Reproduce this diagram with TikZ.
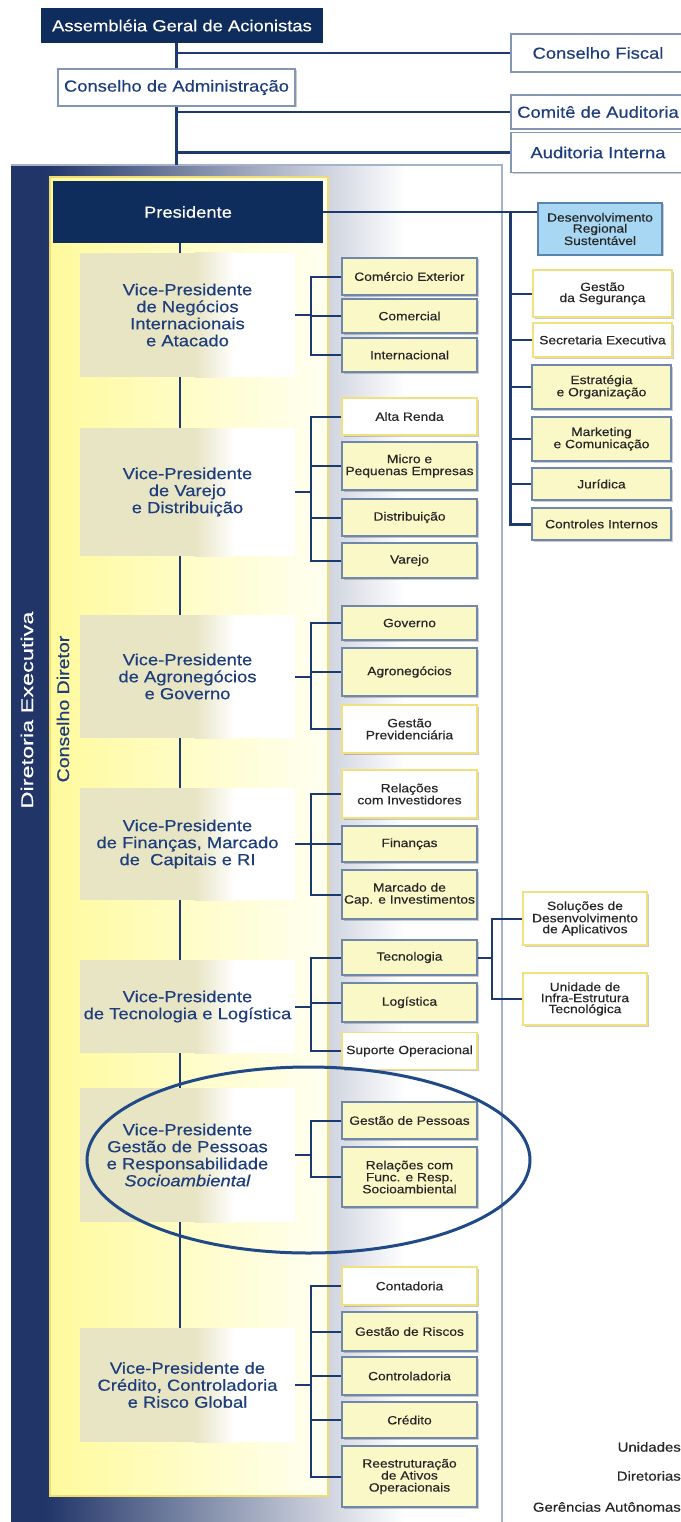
\documentclass[tikz,border=0pt]{standalone}
\usepackage{fontspec}
\usepackage{graphicx}
\setmainfont[FakeStretch=1.15, FakeBold=0.4]{Liberation Sans}
\usetikzlibrary{shadows}
\definecolor{boxnavy}{HTML}{0E2C5C}
\definecolor{stripnavy}{HTML}{213568}
\definecolor{linenavy}{HTML}{1C3A6F}
\definecolor{vptext}{HTML}{1D3D7C}
\definecolor{panelyellow}{HTML}{FFFA9C}
\definecolor{panelwhite}{HTML}{FFFFF2}
\definecolor{panelborder}{HTML}{F0DC70}
\definecolor{vpbeige}{HTML}{E8E5C4}
\definecolor{subfill}{HTML}{FBF8C8}
\definecolor{subborder}{HTML}{6F87A8}
\definecolor{yborder}{HTML}{F2DF7E}
\definecolor{desfill}{HTML}{A7D7F2}
\definecolor{desborder}{HTML}{5A84B0}
\definecolor{frameborder}{HTML}{A6B2CB}
\definecolor{topborder}{HTML}{8496B5}
\definecolor{subtext}{HTML}{262626}
\definecolor{ellcol}{HTML}{1F4A85}
\pgfdeclarelayer{panels}
\pgfdeclarelayer{wires}
\pgfsetlayers{panels,wires,main}
\begin{document}
\begin{tikzpicture}[x=1pt,y=-1pt,
  every node/.style={inner sep=0pt, align=center},
  wire/.style={draw=linenavy, line width=2pt},
  shad/.style={drop shadow={shadow xshift=1.5pt, shadow yshift=-1.5pt, fill=black, opacity=0.2}},
  topbox/.style={shad, draw=topborder, line width=1.5pt, fill=white, text=vptext, font=\fontsize{16}{18}\selectfont},
  navybox/.style={fill=boxnavy, text=white, font=\fontsize{16}{18}\selectfont},
  vpbox/.style={fill=white, minimum width=215pt, text=vptext, font=\fontsize{16}{17}\selectfont,
    path picture={
      \fill[vpbeige] (path picture bounding box.south west) rectangle ([xshift=116pt]path picture bounding box.north west);
      \shade[left color=vpbeige, right color=white] ([xshift=115pt]path picture bounding box.south west) rectangle ([xshift=155pt]path picture bounding box.north west);
    }},
  subbox/.style={shad, draw=subborder, line width=1.5pt, fill=subfill, text=subtext, minimum width=135pt, font=\fontsize{12}{12}\selectfont},
  wsubbox/.style={subbox, draw=yborder, fill=white},
  rbox/.style={subbox, minimum width=139pt, font=\fontsize{12}{11}\selectfont},
  wrbox/.style={rbox, draw=yborder, fill=white},
  legend/.style={anchor=east, text=subtext, font=\fontsize{13}{13}\selectfont}
]
\useasboundingbox (0,0) rectangle (680,1522);

% panels
\begin{pgfonlayer}{panels}
\fill[white] (0,0) rectangle (680,1522);
\fill[stripnavy] (11,165) rectangle (46,1522);
\shade[left color=stripnavy, right color=white] (45,165) rectangle (405,1522);
\fill[white] (404,165) rectangle (502,1522);
\draw[frameborder, line width=1.2pt] (11,165) -- (502,165) -- (502,1522);
\shadedraw[left color=panelyellow, right color=panelwhite, draw=panelborder, line width=2pt] (50,177) rectangle (328,1496);
\end{pgfonlayer}

% top governance
\node[navybox, minimum width=282pt, minimum height=35pt] (asm) at (182,25.5) {Assembléia Geral de Acionistas};
\node[topbox, minimum width=237pt, minimum height=37pt] (adm) at (176.5,87.5) {Conselho de Administração};
\node[topbox, minimum width=174pt, minimum height=38pt] (cf) at (598,53) {Conselho Fiscal};
\node[topbox, minimum width=174pt, minimum height=34pt] (ca) at (598,112) {Comitê de Auditoria};
\node[topbox, minimum width=174pt, minimum height=40pt] (ai) at (598,152.5) {Auditoria Interna};
\coordinate (t0) at (176,165);

% side labels
\node[rotate=90, text=white, font=\fontsize{17}{17}\selectfont] (de) at (27,710) {\scalebox{1.2}[1]{Diretoria Executiva}};
\node[rotate=90, text=vptext, font=\fontsize{17}{17}\selectfont] (cd) at (63,709) {Conselho Diretor};

% presidente
\node[navybox, minimum width=270pt, minimum height=62pt] (pres) at (188,212) {Presidente};

% vice-presidents
\node[vpbox, minimum height=124pt] (vp1) at (187.5,315) {Vice-Presidente\\de Negócios\\Internacionais\\e Atacado};
\node[vpbox, minimum height=128pt] (vp2) at (187.5,492) {Vice-Presidente\\de Varejo\\e Distribuição};
\node[vpbox, minimum height=123pt] (vp3) at (187.5,676.5) {Vice-Presidente\\de Agronegócios\\e Governo};
\node[vpbox, minimum height=112pt] (vp4) at (187.5,844) {Vice-Presidente\\de Finanças, Marcado\\de\ \ Capitais e RI};
\node[vpbox, minimum height=93pt] (vp5) at (187.5,1006.5) {Vice-Presidente\\de Tecnologia e Logística};
\node[vpbox, minimum height=134pt] (vp6) at (187.5,1155) {Vice-Presidente\\Gestão de Pessoas\\e Responsabilidade\\\textit{Socioambiental}};
\node[vpbox, minimum height=114pt] (vp7) at (187.5,1385) {Vice-Presidente de\\Crédito, Controladoria\\e Risco Global};
\coordinate (tk) at (180,0);
\coordinate (bx) at (311,0);

% VP1 subs
\node[subbox, minimum height=37pt] (c11) at (409.5,276.5) {Comércio Exterior};
\node[subbox, minimum height=34pt] (c12) at (409.5,316) {Comercial};
\node[subbox, minimum height=34pt] (c13) at (409.5,355) {Internacional};
% VP2 subs
\node[wsubbox, minimum height=37pt] (c21) at (409.5,416.5) {Alta Renda};
\node[subbox, minimum height=48pt] (c22) at (409.5,466) {Micro e\\Pequenas Empresas};
\node[subbox, minimum height=37pt] (c23) at (409.5,517.5) {Distribuição};
\node[subbox, minimum height=35pt] (c24) at (409.5,560.5) {Varejo};
% VP3 subs
\node[subbox, minimum height=34pt] (c31) at (409.5,623) {Governo};
\node[subbox, minimum height=48pt] (c32) at (409.5,672) {Agronegócios};
\node[wsubbox, minimum height=48pt] (c33) at (409.5,729) {Gestão\\Previdenciária};
% VP4 subs
\node[wsubbox, minimum height=48pt] (c41) at (409.5,794) {Relações\\com Investidores};
\node[subbox, minimum height=36pt] (c42) at (409.5,844) {Finanças};
\node[subbox, minimum height=49pt] (c43) at (409.5,894.5) {Marcado de\\Cap. e Investimentos};
% VP5 subs
\node[subbox, minimum height=35pt] (c51) at (409.5,957.5) {Tecnologia};
\node[subbox, minimum height=39pt] (c52) at (409.5,1002.5) {Logística};
\node[wsubbox, minimum height=37pt] (c53) at (409.5,1051) {Suporte Operacional};
% VP6 subs
\node[subbox, minimum height=37pt] (c61) at (409.5,1120.5) {Gestão de Pessoas};
\node[subbox, minimum height=60pt] (c62) at (409.5,1177) {Relações com\\Func. e Resp.\\Socioambiental};
% VP7 subs
\node[wsubbox, minimum height=38pt] (c71) at (409.5,1286) {Contadoria};
\node[subbox, minimum height=39pt] (c72) at (409.5,1331.5) {Gestão de Riscos};
\node[subbox, minimum height=38pt] (c73) at (409.5,1376) {Controladoria};
\node[subbox, minimum height=36pt] (c74) at (409.5,1420) {Crédito};
\node[subbox, minimum height=61pt] (c75) at (409.5,1476.5) {Reestruturação\\de Ativos\\Operacionais};

% Tecnologia units
\node[wrbox, minimum width=124pt, minimum height=53pt] (s1) at (585,918.5) {Soluções de\\Desenvolvimento\\de Aplicativos};
\node[wrbox, minimum width=124pt, minimum height=52pt] (s2) at (585,999) {Unidade de\\Infra-Estrutura\\Tecnológica};
\coordinate (bt) at (492,0);

% right column
\node[rbox, fill=desfill, draw=desborder, minimum width=124pt, minimum height=52pt] (des) at (600,229) {Desenvolvimento\\Regional\\Sustentável};
\node[wrbox, minimum height=47pt] (r1) at (602.5,293.5) {Gestão\\da Segurança};
\node[wrbox, minimum height=34pt] (r2) at (602.5,340) {Secretaria Executiva};
\node[rbox, minimum height=44pt] (r3) at (601.5,387) {Estratégia\\e Organização};
\node[rbox, minimum height=44pt] (r4) at (601.5,439) {Marketing\\e Comunicação};
\node[rbox, minimum height=32pt] (r5) at (601.5,484) {Jurídica};
\node[rbox, minimum height=32pt] (r6) at (601.5,524) {Controles Internos};
\coordinate (bus) at (510,212);

% legend
\node[legend] (lu) at (681,1447) {Unidades};
\node[legend] (ld) at (681,1476) {Diretorias};
\node[legend] (lg) at (681,1507) {Gerências Autônomas};

% connectors
\begin{pgfonlayer}{wires}
\draw[wire, line width=3pt] (asm.south -| t0) -- (t0);
\draw[wire, line width=2.5pt] (cf.west) -- (cf.west -| t0);
\draw[wire, line width=2.5pt] (ca.west) -- (ca.west -| t0);
\draw[wire, line width=2.5pt] (ai.west) -- (ai.west -| t0);
\draw[wire] (pres.south -| tk) -- (vp7.north -| tk);
\draw[wire, line width=2.5pt] (pres.east) -- (pres.east -| des.west);
\draw[wire, line width=3pt] (bus) |- (r6.west);
\foreach \r in {r1,r2,r3,r4,r5} {\draw[wire] (\r.west) -- (\r.west -| bus);}
% VP brackets
\draw[wire] (vp1.east) -- (vp1.east -| bx);
\draw[wire] (c11.west) -| (c13.west -| bx) -- (c13.west);
\draw[wire] (c12.west) -- (c12.west -| bx);
\draw[wire] (vp2.east) -- (vp2.east -| bx);
\draw[wire] (c21.west) -| (c24.west -| bx) -- (c24.west);
\foreach \c in {c22,c23} {\draw[wire] (\c.west) -- (\c.west -| bx);}
\draw[wire] (vp3.east) -- (vp3.east -| bx);
\draw[wire] (c31.west) -| (c33.west -| bx) -- (c33.west);
\draw[wire] (c32.west) -- (c32.west -| bx);
\draw[wire] (vp4.east) -- (vp4.east -| bx);
\draw[wire] (c41.west) -| (c43.west -| bx) -- (c43.west);
\draw[wire] (c42.west) -- (c42.west -| bx);
\draw[wire] (vp5.east) -- (vp5.east -| bx);
\draw[wire] (c51.west) -| (c53.west -| bx) -- (c53.west);
\draw[wire] (c52.west) -- (c52.west -| bx);
\draw[wire] (vp6.east) -- (vp6.east -| bx);
\draw[wire] (c61.west) -| (c62.west -| bx) -- (c62.west);
\draw[wire] (vp7.east) -- (vp7.east -| bx);
\draw[wire] (c71.west) -| (c75.west -| bx) -- (c75.west);
\foreach \c in {c72,c73,c74} {\draw[wire] (\c.west) -- (\c.west -| bx);}
% Tecnologia bracket
\draw[wire] (c51.east) -- (c51.east -| bt);
\draw[wire] (s1.west) -| (s2.west -| bt) -- (s2.west);
\end{pgfonlayer}

% highlight ellipse
\draw[ellcol, line width=3pt] (308.5,1160) ellipse [x radius=221.5pt, y radius=93pt];
\end{tikzpicture}
\end{document}
